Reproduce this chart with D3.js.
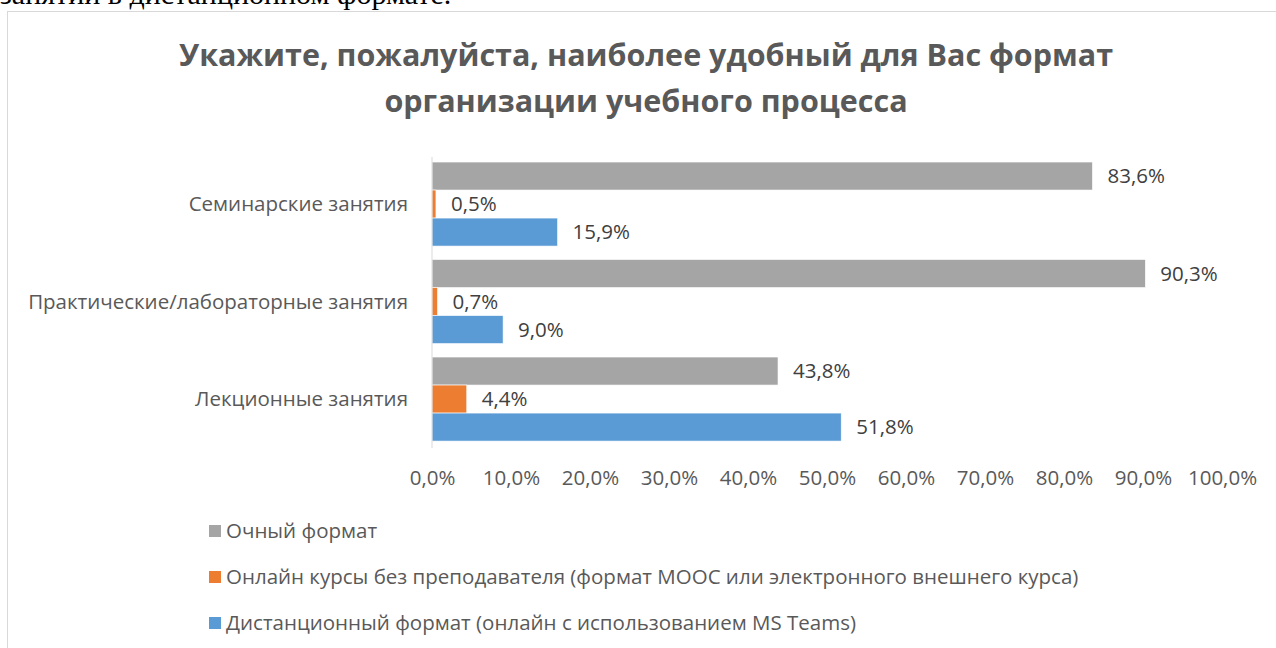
<!DOCTYPE html>
<html>
<head>
<meta charset="utf-8">
<script src="https://cdn.jsdelivr.net/npm/d3@7"></script>
<style>
  body { margin: 0; background: #fff; }
  svg { display: block; }
</style>
</head>
<body>
<div id="content"></div>
<script>
// data
const categories = ['Семинарские занятия', 'Практические/лабораторные занятия', 'Лекционные занятия'];
const seriesNames = [
  'Очный формат',
  'Онлайн курсы без преподавателя (формат MOOC или электронного внешнего курса)',
  'Дистанционный формат (онлайн с использованием MS Teams)',
];
const fullTime = [83.6, 90.3, 43.8];
const moocOnly = [0.5, 0.7, 4.4];
const msTeams = [15.9, 9.0, 51.8];
const tickValues = [0, 10, 20, 30, 40, 50, 60, 70, 80, 90, 100];
const titleLines = ['Укажите, пожалуйста, наиболее удобный для Вас формат', 'организации учебного процесса'];

const colors = ['#a5a5a5', '#ed7d31', '#5b9bd5'];
const series = [fullTime, moocOnly, msTeams];
const font = '"Open Sans", sans-serif';
const fs = 20.5;
const fmt = v => v.toFixed(1).replace('.', ',') + '%';

const W = 1276, H = 648;
const svg = d3.select('#content').append('svg').attr('width', W).attr('height', H);

// text from the page above the chart, cut off in the screenshot
svg.append('text')
  .attr('x', 0).attr('y', 4)
  .attr('font-family', '"Liberation Serif", serif')
  .attr('font-size', 30)
  .attr('fill', '#000')
  .text('занятий в дистанционном формате.');

// chart frame
svg.append('rect')
  .attr('x', 7.5).attr('y', 11.5)
  .attr('width', W + 10).attr('height', H + 10)
  .attr('fill', '#fff')
  .attr('stroke', '#d9d9d9');

// title
svg.append('g').selectAll('text').data(titleLines).join('text')
  .attr('x', 646)
  .attr('y', (d, i) => 66 + i * 45.5)
  .attr('text-anchor', 'middle')
  .attr('font-family', font)
  .attr('font-weight', 'bold')
  .attr('font-size', 30.5)
  .attr('fill', '#595959')
  .text(d => d);

const x = d3.scaleLinear().domain([0, 100]).range([432, 1222]);
const y0 = d3.scaleBand().domain(categories).range([155.2, 447.9]).paddingInner(0.138).paddingOuter(0.07);
const y1 = d3.scaleBand().domain(d3.range(series.length)).range([0, y0.bandwidth()]);

// bars
const groups = svg.append('g').selectAll('g').data(categories).join('g')
  .attr('transform', c => `translate(0,${y0(c)})`);

groups.selectAll('rect').data((c, ci) => series.map((s, si) => ({ si, v: s[ci] }))).join('rect')
  .attr('x', x(0))
  .attr('y', d => y1(d.si))
  .attr('width', d => x(d.v) - x(0))
  .attr('height', y1.bandwidth())
  .attr('fill', d => colors[d.si])
  .attr('stroke', '#fff')
  .attr('stroke-width', 0.6);

groups.selectAll('text').data((c, ci) => series.map((s, si) => ({ si, v: s[ci] }))).join('text')
  .attr('x', d => x(d.v) + 15)
  .attr('y', d => y1(d.si) + y1.bandwidth() / 2)
  .attr('dy', '0.35em')
  .attr('font-family', font)
  .attr('font-size', fs)
  .attr('fill', '#404040')
  .text(d => fmt(d.v));

// category axis
svg.append('line')
  .attr('x1', x(0)).attr('x2', x(0))
  .attr('y1', 157).attr('y2', 448)
  .attr('stroke', '#d9d9d9');

svg.append('g').selectAll('text').data(categories).join('text')
  .attr('x', 408)
  .attr('y', c => y0(c) + y0.bandwidth() / 2)
  .attr('dy', '0.35em')
  .attr('text-anchor', 'end')
  .attr('font-family', font)
  .attr('font-size', fs)
  .attr('fill', '#595959')
  .text(c => c);

// value axis (labels only)
const xAxis = svg.append('g')
  .attr('transform', 'translate(0,478)')
  .call(d3.axisBottom(x).tickValues(tickValues).tickSize(0).tickPadding(0).tickFormat(fmt));
xAxis.select('.domain').remove();
xAxis.selectAll('text')
  .attr('dy', '0.35em')
  .attr('font-family', font)
  .attr('font-size', fs)
  .attr('fill', '#595959');

// legend
const legend = svg.append('g').selectAll('g').data(seriesNames).join('g')
  .attr('transform', (d, i) => `translate(209,${531 + i * 46})`);
legend.append('rect')
  .attr('x', 0).attr('y', -6)
  .attr('width', 12).attr('height', 12)
  .attr('fill', (d, i) => colors[i]);
legend.append('text')
  .attr('x', 17)
  .attr('dy', '0.35em')
  .attr('font-family', font)
  .attr('font-size', fs)
  .attr('fill', '#595959')
  .text(d => d);
</script>
</body>
</html>
